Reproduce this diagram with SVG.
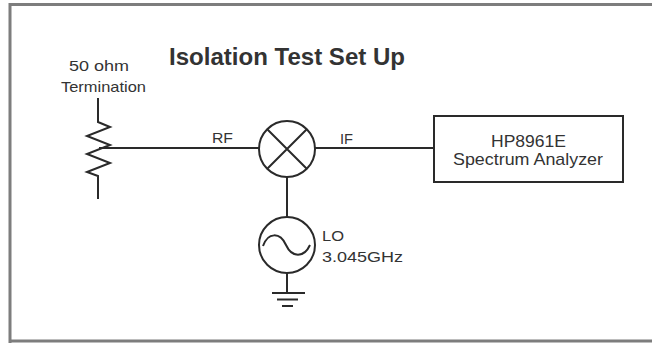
<svg xmlns="http://www.w3.org/2000/svg" width="652" height="343" viewBox="0 0 652 343">
<style>
.ln{fill:none;stroke:#2a2a2a;stroke-width:2}
.t{font-family:"Liberation Sans",Arial,sans-serif;fill:#333}
.r{font-size:15px}
.b{font-size:17px}
</style>
<rect width="652" height="343" fill="#fff"/>
<g id="frame">
<path d="M10,343 V4.5 H652" fill="none" stroke="#7d7d7d" stroke-width="3"/>
<path d="M10,341 H652" fill="none" stroke="#7d7d7d" stroke-width="3"/>
</g>
<text id="title" class="t" x="169" y="65" font-size="24.5" font-weight="bold" fill="#222" textLength="236" lengthAdjust="spacingAndGlyphs">Isolation Test Set Up</text>
<g id="connectors">
<path class="ln" d="M99,148 H259"/>
<path class="ln" d="M315,148 H434"/>
<path class="ln" d="M287,177 V217"/>
<path class="ln" d="M287,273 V293"/>
</g>
<g id="termination">
<path class="ln" d="M98,98 V122 L110,127 L87,136 L110,145 L87,154 L110,163 L87,172 L98,176 V199"/>
<text class="t r" x="69" y="71" textLength="60" lengthAdjust="spacingAndGlyphs">50 ohm</text>
<text class="t r" x="61" y="92" textLength="85" lengthAdjust="spacingAndGlyphs">Termination</text>
</g>
<g id="mixer">
<circle class="ln" cx="287" cy="149" r="28"/>
<path class="ln" d="M267,129 L307,169 M307,129 L267,169"/>
<text class="t r" x="212" y="143" textLength="21" lengthAdjust="spacingAndGlyphs">RF</text>
<text class="t r" x="340" y="144" textLength="13" lengthAdjust="spacingAndGlyphs">IF</text>
</g>
<g id="lo">
<circle class="ln" cx="287" cy="245" r="28"/>
<path class="ln" d="M263,246 C268,232 280,232 286,245 C292,258 304,258 310,245"/>
<text class="t r" x="322" y="241" textLength="22" lengthAdjust="spacingAndGlyphs">LO</text>
<text class="t r" x="322" y="262" textLength="81" lengthAdjust="spacingAndGlyphs">3.045GHz</text>
</g>
<g id="ground">
<path class="ln" d="M272,293 H305 M277,299.5 H298 M282,306 H293"/>
</g>
<g id="analyzer">
<rect class="ln" x="434" y="116" width="189" height="66"/>
<text class="t b" x="491" y="147" textLength="75" lengthAdjust="spacingAndGlyphs">HP8961E</text>
<text class="t b" x="453" y="165" textLength="150" lengthAdjust="spacingAndGlyphs">Spectrum Analyzer</text>
</g>
</svg>
